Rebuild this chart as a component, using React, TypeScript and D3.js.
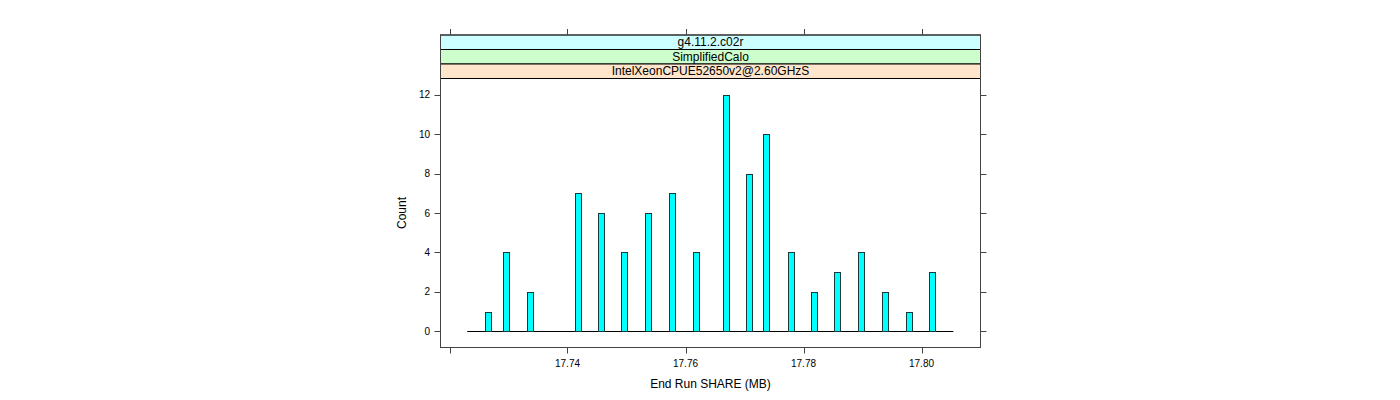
import React from "react";
import * as d3 from "d3";

const shareValues = [17.7266, 17.7296, 17.7336, 17.7417, 17.7457, 17.7496, 17.7537, 17.7577, 17.7617, 17.7668, 17.7708, 17.7737, 17.7778, 17.7818, 17.7857, 17.7898, 17.7938, 17.7978, 17.8018];
const counts = [1, 4, 2, 7, 6, 4, 6, 7, 4, 12, 8, 10, 4, 2, 3, 4, 2, 1, 3];
const xTicks = [17.72, 17.74, 17.76, 17.78, 17.8];
const xTickLabels = ["", "17.74", "17.76", "17.78", "17.80"];
const yTicks = [0, 2, 4, 6, 8, 10, 12];
const baselineRange = [17.723, 17.8054];
const stripLabels = ["g4.11.2.c02r", "SimplifiedCalo", "IntelXeonCPUE52650v2@2.60GHzS"];
const stripColors = ["#CCFFFF", "#CCFFCC", "#FFE5CC"];

export default function App() {
  const left = 440.5, right = 980.5, top = 78.5, bottom = 347.5;
  const stripTop = 35, stripH = 14.5;
  const x = d3.scaleLinear().domain([17.72, 17.8]).range([449.5, 921.5]);
  const y = d3.scaleLinear().domain([0, 12]).range([331.3, 94.7]);
  const barW = 6;
  const font = "Liberation Sans, Arial, Helvetica, sans-serif";
  const axisCol = "#444";
  return (
    <svg width={1400} height={400} style={{ display: "block", position: "absolute", left: 0, top: 0 }} fontFamily={font}>
      {stripLabels.map((s, i) => (
        <g key={s}>
          <rect x={left} y={stripTop + i * stripH} width={right - left} height={stripH} fill={stripColors[i]} stroke="#000" strokeWidth={1} />
          <text x={(left + right) / 2} y={stripTop + i * stripH + stripH / 2 + 4} textAnchor="middle" fontSize={12} fill="#000">{s}</text>
        </g>
      ))}
      <rect x={left} y={stripTop} width={right - left} height={bottom - stripTop} fill="none" stroke={axisCol} strokeWidth={1} />
      {xTicks.map((t, i) => (
        <g key={t}>
          <line x1={Math.round(x(t)) + 0.5} x2={Math.round(x(t)) + 0.5} y1={bottom} y2={bottom + 6} stroke={axisCol} />
          <line x1={Math.round(x(t)) + 0.5} x2={Math.round(x(t)) + 0.5} y1={stripTop} y2={stripTop - 6} stroke={axisCol} />
          <text x={x(t)} y={bottom + 19} textAnchor="middle" fontSize={10} fill="#000">{xTickLabels[i]}</text>
        </g>
      ))}
      {yTicks.map((t) => (
        <g key={t}>
          <line x1={left} x2={left - 6} y1={Math.round(y(t)) + 0.5} y2={Math.round(y(t)) + 0.5} stroke={axisCol} />
          <line x1={right} x2={right + 6} y1={Math.round(y(t)) + 0.5} y2={Math.round(y(t)) + 0.5} stroke={axisCol} />
          <text x={430} y={y(t) + 3.5} textAnchor="end" fontSize={10} fill="#000">{t}</text>
        </g>
      ))}
      <line x1={x(baselineRange[0])} x2={x(baselineRange[1])} y1={Math.round(y(0)) + 0.5} y2={Math.round(y(0)) + 0.5} stroke="#000" strokeWidth={1} />
      {shareValues.map((v, i) => (
        <rect key={i} x={Math.round(x(v) - barW / 2) + 0.5} y={Math.round(y(counts[i])) + 0.5} width={barW} height={Math.round(y(0)) - Math.round(y(counts[i]))} fill="#00FFFF" stroke="#1a3a3a" strokeWidth={1} />
      ))}
      <text x={(left + right) / 2} y={388} textAnchor="middle" fontSize={12} fill="#000">End Run SHARE (MB)</text>
      <text transform={`translate(406, ${(top + bottom) / 2}) rotate(-90)`} textAnchor="middle" fontSize={12} fill="#000">Count</text>
    </svg>
  );
}
